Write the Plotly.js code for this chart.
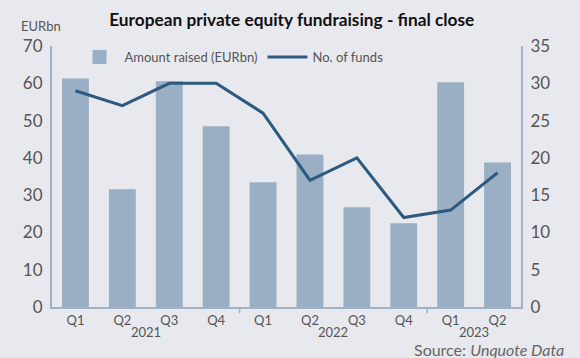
<!DOCTYPE html>
<html>
<head>
<meta charset="utf-8">
<script src="https://cdn.plot.ly/plotly-3.0.1.min.js"></script>
<style>
html,body{margin:0;padding:0;background:#e8e9ee;}
#chart{width:580px;height:358px;}
</style>
</head>
<body>
<div id="chart"></div>
<script>
const quarters = ["Q1","Q2","Q3","Q4","Q1","Q2","Q3","Q4","Q1","Q2"];
const years = ["2021","2021","2021","2021","2022","2022","2022","2022","2023","2023"];
const amountRaised = [61, 31.3, 60.3, 48.2, 33.2, 40.6, 26.5, 22.2, 60, 38.5];
const numFunds = [29, 27, 30, 30, 26, 17, 20, 12, 13, 18];

const idx = quarters.map((q, i) => i);

const barColor = "#9aafc4";
const lineColor = "#2e5a7f";
const axisColor = "#9fb2c6";
const textColor = "#555555";
const font = "Lato, 'Open Sans', sans-serif";

// year group centres and boundaries derived from the data
const yearList = [];
years.forEach((y) => { if (!yearList.includes(y)) yearList.push(y); });
const annotations = [];
const shapes = [];
yearList.forEach((y, k) => {
  const members = idx.filter(i => years[i] === y);
  const centre = (members[0] + members[members.length - 1]) / 2;
  annotations.push({
    x: centre, xref: "x", y: 0, yref: "paper", yanchor: "top",
    yshift: -15, text: y, showarrow: false,
    font: {family: font, size: 13, color: textColor}
  });
  if (k > 0) {
    const b = members[0] - 0.5;
    shapes.push({type: "line", xref: "x", yref: "paper", x0: b, x1: b, y0: 0, y1: -0.024,
      line: {color: axisColor, width: 1.5}});
  }
});

annotations.push({
  xref: "paper", yref: "paper", x: -0.07, y: 1.075, xanchor: "left", yanchor: "middle",
  text: "EURbn", showarrow: false, font: {family: font, size: 13, color: textColor}
});
annotations.push({
  xref: "paper", yref: "paper", x: 1.097, y: -0.162, xanchor: "right", yanchor: "middle",
  text: "Source: <i>Unquote Data</i>", showarrow: false,
  font: {family: font, size: 16, color: "#666666"}
});

const traces = [
  {
    type: "bar", x: idx, y: amountRaised, name: "Amount raised (EURbn)",
    marker: {color: barColor, line: {color: barColor, width: 2}}, yaxis: "y", hoverinfo: "skip"
  },
  {
    type: "scatter", mode: "lines", x: idx, y: numFunds, name: "No. of funds",
    line: {color: lineColor, width: 3}, yaxis: "y2", hoverinfo: "skip"
  }
];

const layout = {
  width: 580, height: 358,
  paper_bgcolor: "#e8e9ee", plot_bgcolor: "#e8e9ee",
  margin: {l: 52, r: 59, t: 46, b: 51},
  font: {family: font, color: textColor},
  title: {
    text: "<b>European private equity fundraising - final close</b>",
    x: 0.503, xref: "container", xanchor: "center",
    y: 0.945, yref: "container", yanchor: "middle",
    font: {family: font, size: 17.3, color: "#111111"}
  },
  bargap: 0.47,
  showlegend: true,
  legend: {
    orientation: "h", x: 0.048, y: 1.015, xanchor: "left", yanchor: "top",
    bgcolor: "rgba(0,0,0,0)", font: {family: font, size: 13, color: textColor},
    traceorder: "normal", itemwidth: 40
  },
  xaxis: {
    tickmode: "array", tickvals: idx, ticktext: quarters,
    range: [-0.5, quarters.length - 0.5],
    showline: true, linecolor: axisColor, linewidth: 2,
    showgrid: false, zeroline: false, ticks: "",
    tickfont: {family: font, size: 13, color: textColor}
  },
  yaxis: {
    range: [0, 70], dtick: 10, showgrid: false, zeroline: false,
    showline: true, linecolor: axisColor, linewidth: 2, ticks: "",
    ticklabelstandoff: 4,
    tickfont: {family: font, size: 17, color: textColor}
  },
  yaxis2: {
    range: [0, 35], dtick: 5, overlaying: "y", side: "right",
    showgrid: false, zeroline: false,
    showline: true, linecolor: axisColor, linewidth: 2, ticks: "",
    ticklabelstandoff: 4,
    tickfont: {family: font, size: 17, color: textColor}
  },
  annotations: annotations,
  shapes: shapes
};

Plotly.newPlot("chart", traces, layout, {staticPlot: true, displayModeBar: false});
</script>
</body>
</html>
